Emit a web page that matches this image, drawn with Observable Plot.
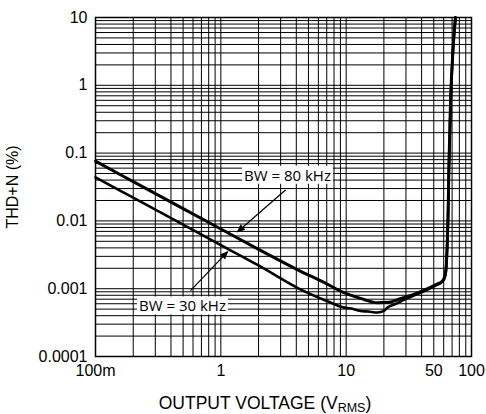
<!DOCTYPE html>
<html>
<head>
<meta charset="utf-8">
<script src="https://cdn.jsdelivr.net/npm/d3@7"></script>
<script src="https://cdn.jsdelivr.net/npm/@observablehq/plot@0.6"></script>
<style>
  body { margin: 0; background: #fff; }
  #chart svg { display: block; }
</style>
</head>
<body>
<div id="chart"></div>
<script>
// ---- Data ----
const bw80V   = [0.1, 0.2, 0.5, 1, 2, 4.3, 7, 9.5, 13, 17.8, 22, 27, 35, 44.6, 52, 58.7, 62, 63, 64, 65, 66, 68, 71, 74.5];
const bw80THD = [0.076, 0.038, 0.0152, 0.0076, 0.0038, 0.00182, 0.00118, 0.00088, 0.00072, 0.00062, 0.00063, 0.00071, 0.00083, 0.001, 0.00115, 0.0013, 0.0017, 0.0023, 0.0045, 0.012, 0.06, 0.55, 3.1, 10];

const bw30V   = [0.1, 0.2, 0.5, 1, 2, 4.3, 7, 9.5, 11, 13, 15, 17.8, 20, 21.4, 25, 28, 35, 44.6, 52, 58.7, 62, 63, 64, 65, 66, 68, 71, 74.5];
const bw30THD = [0.044, 0.022, 0.0088, 0.0044, 0.0022, 0.00098, 0.00066, 0.00053, 0.00051, 0.00047, 0.00046, 0.000445, 0.00047, 0.00053, 0.0006, 0.00067, 0.0008, 0.00097, 0.00112, 0.00127, 0.0016, 0.0022, 0.0043, 0.0115, 0.058, 0.53, 3.0, 10];

const xTickValues = [0.1, 1, 10, 50, 100];
const xTickLabels = ["100m", "1", "10", "50", "100"];
const yTickValues = [0.0001, 0.001, 0.01, 0.1, 1, 10];
const yTickLabels = ["0.0001", "0.001", "0.01", "0.1", "1", "10"];

const xTitle = "OUTPUT VOLTAGE (V";
const xTitleSub = "RMS";
const yTitle = "THD+N (%)";

const annoText = ["BW = 80 kHz", "BW = 30 kHz"];
const annoX = [3.4, 0.494];
const annoY = [0.046, 0.000543];
const arrowFromX = [3.28, 0.573];
const arrowFromY = [0.0286, 0.000935];
const arrowToX = [1.36, 1.13];
const arrowToY = [0.0069, 0.0035];

// ---- Tables built from the arrays ----
const series80 = bw80V.map((v, i) => ({v, thd: bw80THD[i]}));
const series30 = bw30V.map((v, i) => ({v, thd: bw30THD[i]}));
const annos = annoText.map((t, i) => ({t, x: annoX[i], y: annoY[i]}));
const arrows = arrowFromX.map((x1, i) => ({x1, y1: arrowFromY[i], x2: arrowToX[i], y2: arrowToY[i]}));
const xTicks = xTickValues.map((v, i) => ({v, label: xTickLabels[i]}));
const yLabelOf = new Map(yTickValues.map((v, i) => [v, yTickLabels[i]]));

// Minor grid values (1..9 per decade)
const gridX = [];
for (let e = -1; e <= 1; e++) for (let m = 1; m <= 9; m++) gridX.push(m * Math.pow(10, e));
gridX.push(100);
const gridY = [];
for (let e = -4; e <= 0; e++) for (let m = 1; m <= 9; m++) gridY.push(m * Math.pow(10, e));
gridY.push(10);

const chart = Plot.plot({
  width: 486,
  height: 414,
  marginLeft: 95,
  marginRight: 15,
  marginTop: 17,
  marginBottom: 58,
  style: {fontFamily: "'Liberation Sans', Arial, sans-serif", fontSize: "16px", color: "#000", background: "#fff", overflow: "visible"},
  x: {type: "log", domain: [0.1, 100], axis: null},
  y: {type: "log", domain: [0.0001, 10], ticks: yTickValues, tickFormat: d => yLabelOf.get(d), tickSize: 0, tickPadding: 8, label: null},
  marks: [
    Plot.ruleX(gridX, {stroke: "#000", strokeWidth: 1}),
    Plot.ruleY(gridY, {stroke: "#000", strokeWidth: 1}),
    Plot.frame({stroke: "#000", strokeWidth: 1.5}),
    Plot.text(xTicks, {x: "v", text: "label", frameAnchor: "bottom", lineAnchor: "top", dy: 8, fontSize: 16, fill: "#000"}),
    Plot.line(series80, {x: "v", y: "thd", stroke: "#000", strokeWidth: 3, curve: "monotone-x"}),
    Plot.line(series30, {x: "v", y: "thd", stroke: "#000", strokeWidth: 2.6, curve: "monotone-x"}),
    Plot.link(arrows, {x1: "x1", y1: "y1", x2: "x2", y2: "y2", stroke: "#000", strokeWidth: 1.2, markerEnd: "arrow"}),
    Plot.text(annos, {x: "x", y: "y", text: "t", fontFamily: "'Open Sans', sans-serif", fontSize: 15, fill: "#000"}),
    Plot.text([yTitle], {frameAnchor: "left", textAnchor: "middle", dx: -83, rotate: -90, fontSize: 16, fill: "#000"})
  ]
});

document.getElementById("chart").append(chart);
const svg = d3.select(chart);

// White boxes behind annotation labels
svg.selectAll("text").filter(function () { return annoText.includes(this.textContent); }).each(function () {
  const b = this.getBBox();
  const padX = 2, padY = -1;
  d3.select(this.parentNode).insert("rect", () => this)
    .attr("x", b.x - padX).attr("y", b.y - padY)
    .attr("width", b.width + 2 * padX).attr("height", b.height + 2 * padY)
    .attr("fill", "#fff")
    .attr("transform", this.getAttribute("transform"));
});

// Filled triangular arrow heads
svg.selectAll("marker").attr("overflow", "visible").selectAll("path")
  .attr("d", "M-9,-4.5L1.5,0L-9,4.5Z")
  .attr("fill", "#000").attr("stroke", "none");

// X axis title with subscript
const t = svg.append("text")
  .attr("x", 265).attr("y", 409)
  .attr("text-anchor", "middle")
  .attr("font-family", "'Liberation Sans', Arial, sans-serif")
  .attr("font-size", 17.5)
  .attr("fill", "#000");
t.append("tspan").text(xTitle);
t.append("tspan").attr("font-size", 12.5).attr("dy", 3).text(xTitleSub);
t.append("tspan").attr("dy", -3).text(")");
</script>
</body>
</html>
